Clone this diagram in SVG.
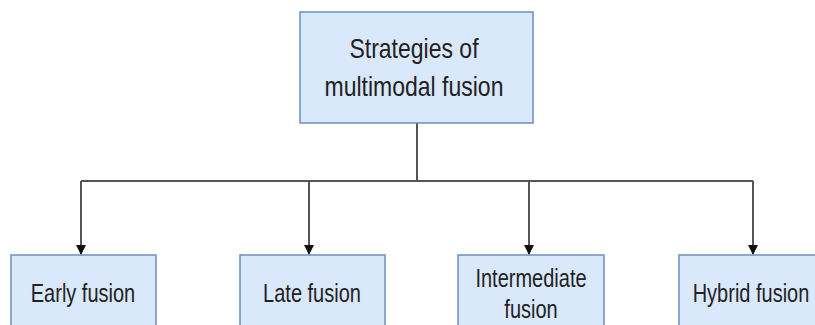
<svg xmlns="http://www.w3.org/2000/svg" width="815" height="325" viewBox="0 0 815 325">
<style>
.box{fill:#dae8fc;stroke:#6c8ebf;stroke-width:1.5}
.t{font-family:"Liberation Sans",Arial,sans-serif;fill:#222;text-anchor:middle}
.line{fill:none;stroke:#555;stroke-width:2}
</style>
<defs>
<marker id="arr" markerWidth="10" markerHeight="10" refX="9" refY="5" orient="auto" markerUnits="userSpaceOnUse">
<path d="M0,0 L10,5 L0,10 Z" fill="#111"/>
</marker>
</defs>
<rect width="815" height="325" fill="#fff"/>
<g id="connectors">
<path class="line" d="M417,123 V181"/>
<path class="line" d="M81,181 H753"/>
<path class="line" d="M81,181 V254" marker-end="url(#arr)"/>
<path class="line" d="M309,181 V254" marker-end="url(#arr)"/>
<path class="line" d="M529,181 V254" marker-end="url(#arr)"/>
<path class="line" d="M753,181 V254" marker-end="url(#arr)"/>
</g>
<g id="root">
<rect class="box" x="300" y="12" width="233" height="111"/>
<text class="t" font-size="23" transform="translate(414,58) scale(1,1.2)">Strategies of</text>
<text class="t" font-size="23" transform="translate(414,96) scale(1,1.2)">multimodal fusion</text>
</g>
<g id="early">
<rect class="box" x="11" y="255" width="145" height="90"/>
<text class="t" font-size="20" transform="translate(83,302) scale(1,1.25)">Early fusion</text>
</g>
<g id="late">
<rect class="box" x="240" y="255" width="145" height="90"/>
<text class="t" font-size="20" transform="translate(312,302) scale(1,1.25)">Late fusion</text>
</g>
<g id="intermediate">
<rect class="box" x="458" y="255" width="146" height="90"/>
<text class="t" font-size="20" transform="translate(531,287) scale(1,1.25)">Intermediate</text>
<text class="t" font-size="20" transform="translate(531,318) scale(1,1.25)">fusion</text>
</g>
<g id="hybrid">
<rect class="box" x="679" y="255" width="145" height="90"/>
<text class="t" font-size="20" transform="translate(751,302) scale(1,1.25)">Hybrid fusion</text>
</g>
</svg>
